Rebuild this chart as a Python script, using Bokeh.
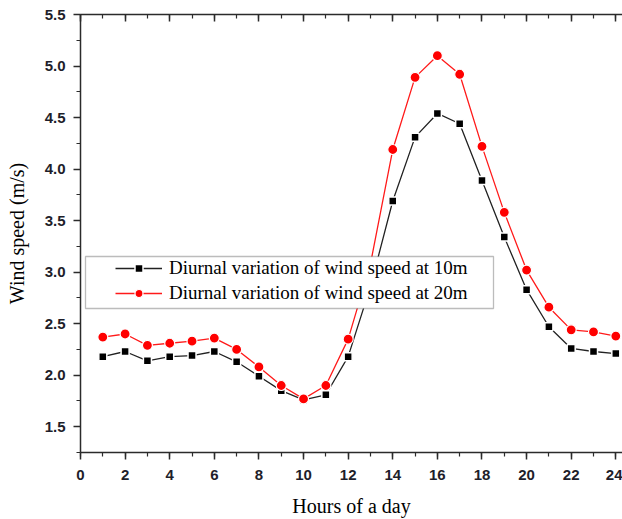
from bokeh.plotting import figure
from bokeh.models import (LinearAxis, SingleIntervalTicker, Range1d, Legend, LegendItem,
                          BoxAnnotation, PrintfTickFormatter)
from bokeh.embed import file_html
from bokeh.resources import INLINE

hours = list(range(1, 25))
ws_10m = [2.18, 2.23, 2.14, 2.18, 2.19, 2.23, 2.13, 1.99, 1.85, 1.76, 1.81, 2.18,
          2.86, 3.69, 4.31, 4.54, 4.44, 3.89, 3.34, 2.83, 2.47, 2.26, 2.23, 2.21]
ws_20m = [2.37, 2.40, 2.29, 2.31, 2.33, 2.36, 2.25, 2.08, 1.90, 1.77, 1.90, 2.35,
          3.08, 4.19, 4.89, 5.10, 4.92, 4.22, 3.58, 3.02, 2.66, 2.44, 2.42, 2.38]
label_10m = "Diurnal variation of wind speed at 10m"
label_20m = "Diurnal variation of wind speed at 20m"
x_title = "Hours of a day"
y_title = "Wind speed (m/s)"

AX = "#2b2b2b"
TICK_FONT = "Liberation Sans"
SERIF = "Liberation Serif"

p = figure(width=622, height=519, output_backend="svg", toolbar_location=None,
           x_range=Range1d(0, 24.3), y_range=Range1d(1.25, 5.5),
           x_axis_type=None, y_axis_type=None,
           min_border_left=80, min_border_top=14, min_border_right=0, min_border_bottom=60)
p.outline_line_color = None
p.xgrid.visible = False
p.ygrid.visible = False
p.background_fill_color = "white"
p.border_fill_color = "white"

xt = SingleIntervalTicker(interval=2, num_minor_ticks=2)
yt = SingleIntervalTicker(interval=0.5, num_minor_ticks=2)

def style(ax, labels=True, inward=False):
    ax.axis_line_color = AX
    ax.axis_line_width = 1.5
    ax.major_tick_line_color = AX
    ax.minor_tick_line_color = AX
    ax.major_tick_line_width = 1.5
    ax.minor_tick_line_width = 1.2
    if inward:
        ax.major_tick_in, ax.major_tick_out = 7, 0
        ax.minor_tick_in, ax.minor_tick_out = 4, 0
    else:
        ax.major_tick_in, ax.major_tick_out = 0, 7
        ax.minor_tick_in, ax.minor_tick_out = 0, 4
    if labels:
        ax.major_label_text_font = TICK_FONT
        ax.major_label_text_font_size = "15px"
        ax.major_label_text_font_style = "bold"
        ax.major_label_text_color = "#1e1e2a"
        ax.axis_label_text_font = SERIF
        ax.axis_label_text_font_size = "20px"
        ax.axis_label_text_font_style = "normal"
        ax.axis_label_text_color = "black"
    else:
        ax.major_label_text_font_size = "0px"
        ax.major_label_standoff = 0
        ax.major_label_text_color = None

xb = LinearAxis(ticker=xt, axis_label=x_title)
style(xb)
xb.major_label_standoff = 10
xb.axis_label_standoff = 12
p.add_layout(xb, "below")

yl = LinearAxis(ticker=yt, axis_label=y_title, formatter=PrintfTickFormatter(format="%.1f"))
style(yl)
yl.major_label_standoff = 8
yl.axis_label_standoff = 14
p.add_layout(yl, "left")

xa = LinearAxis(ticker=xt)
style(xa, labels=False, inward=True)
p.add_layout(xa, "above")

l10 = p.line(hours, ws_10m, line_color="#222222", line_width=1.3)
s10 = p.scatter(hours, ws_10m, marker="square", size=8, fill_color="black",
                line_color="white", line_width=1.5)
l20 = p.line(hours, ws_20m, line_color="#ff1a1a", line_width=1.3)
s20 = p.scatter(hours, ws_20m, marker="circle", size=10, fill_color="#ff0000",
                line_color="white", line_width=1.2)

box = BoxAnnotation(left=5, right=413, bottom=144, top=196,
                    left_units="screen", right_units="screen",
                    bottom_units="screen", top_units="screen",
                    fill_color="white", fill_alpha=1.0,
                    line_color="#222222", line_width=1.3, level="overlay")
p.add_layout(box)

legend = Legend(items=[LegendItem(label=label_10m, renderers=[l10, s10]),
                       LegendItem(label=label_20m, renderers=[l20, s20])],
                location=(35, 148), padding=0, margin=0, spacing=3,
                glyph_width=47, glyph_height=20, label_height=20, label_standoff=7,
                label_text_font=SERIF, label_text_font_size="19px",
                label_text_color="black", level="overlay",
                border_line_color=None, background_fill_alpha=0.0)
p.add_layout(legend)

open("out.html", "w").write(file_html(p, INLINE))
